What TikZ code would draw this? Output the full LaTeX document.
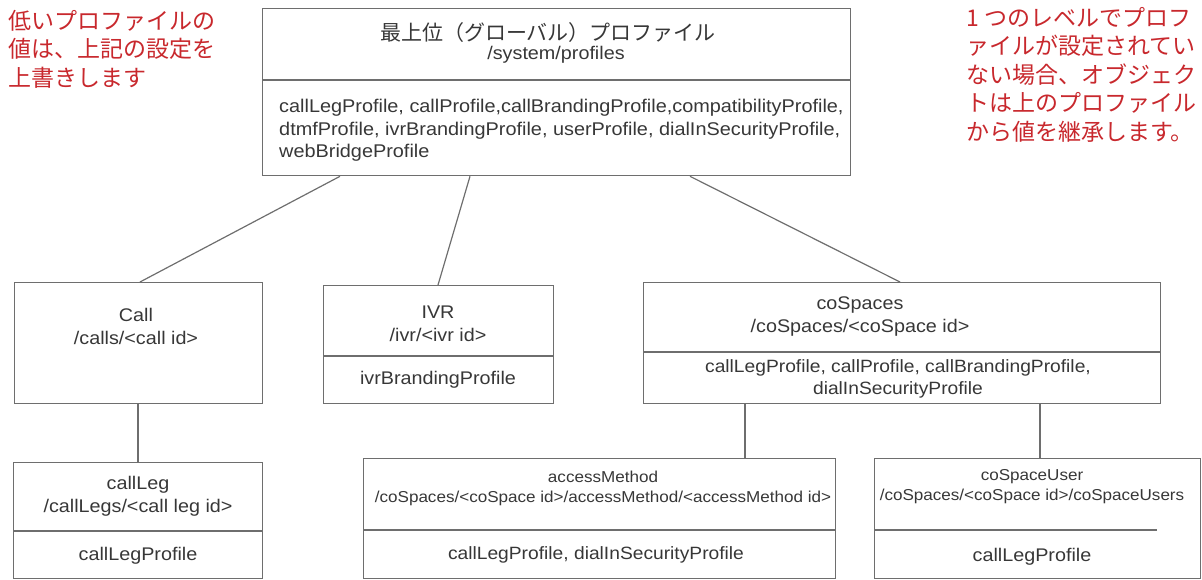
\documentclass[tikz,border=0pt]{standalone}
\usepackage{fontspec}
\setmainfont[FakeStretch=1.08]{Liberation Sans}
\newfontfamily\jp{Noto Sans CJK JP}
\usetikzlibrary{calc}
\definecolor{ln}{RGB}{110,110,110}
\definecolor{tx}{RGB}{55,55,55}
\definecolor{rd}{RGB}{200,40,45}
\tikzset{
  box/.style={draw=ln, line width=1.3pt, anchor=north west, inner sep=0pt},
  div/.style={draw=ln, line width=1.3pt},
  conn/.style={draw=ln, line width=1.2pt},
  lbl/.style={text=tx, inner sep=0pt, align=center, font=\fontsize{18.3}{23}\selectfont},
  small/.style={text=tx, inner sep=0pt, align=center, font=\fontsize{15.8}{20}\selectfont},
  body/.style={text=tx, inner sep=0pt, align=left, anchor=north west, font=\fontsize{18.4}{22.5}\selectfont},
  note/.style={text=rd, inner sep=0pt, align=left, anchor=north west, font=\jp\fontsize{23}{28.5}\selectfont},
}
\begin{document}
\begin{tikzpicture}[x=1pt,y=-1pt]
\useasboundingbox (0,0) rectangle (1202,580);
% notes
\node[note] (noteL) at (8,10) {低いプロファイルの\\値は、上記の設定を\\上書きします};
\node[note] (noteR) at (966,7) {1 つのレベルでプロフ\\ァイルが設定されてい\\ない場合、オブジェク\\トは上のプロファイル\\から値を継承します。};
% top box
\node[box, minimum width=588pt, minimum height=167pt] (top) at (262,8) {};
\draw[div] ([yshift=-72pt]top.north west) -- ([yshift=-72pt]top.north east);
\node[lbl] (toptitle) at (548,33) {\jp\fontsize{21}{23}\selectfont 最上位（グローバル）プロファイル};
\node[lbl] (toppath) at (556,55) {/system/profiles};
\node[body] (topbody) at (279,99) {callLegProfile, callProfile,callBrandingProfile,compatibilityProfile,\\dtmfProfile, ivrBrandingProfile, userProfile, dialInSecurityProfile,\\webBridgeProfile};
% call
\node[box, minimum width=248pt, minimum height=121pt] (call) at (14,282) {};
\node[lbl] (calltxt) at (136,326) {Call\\/calls/<call id>};
% ivr
\node[box, minimum width=230pt, minimum height=118pt] (ivr) at (323,285) {};
\draw[div] ([yshift=-71pt]ivr.north west) -- ([yshift=-71pt]ivr.north east);
\node[lbl] (ivrtxt) at (438,324) {IVR\\/ivr/<ivr id>};
\node[lbl] (ivrbody) at (438,380) {ivrBrandingProfile};
% coSpaces
\node[box, minimum width=517pt, minimum height=121pt] (cosp) at (643,282) {};
\draw[div] ([yshift=-70pt]cosp.north west) -- ([yshift=-70pt]cosp.north east);
\node[lbl] (cosptxt) at (860,317) {coSpaces\\/coSpaces/<coSpace id>};
\node[lbl, font=\fontsize{17.8}{22}\selectfont] (cospbody) at (898,379) {callLegProfile, callProfile, callBrandingProfile,\\dialInSecurityProfile};
% callLeg
\node[box, minimum width=249pt, minimum height=116pt] (leg) at (13,462) {};
\draw[div] ([yshift=-69pt]leg.north west) -- ([yshift=-69pt]leg.north east);
\node[lbl] (legtxt) at (138,496) {callLeg\\/callLegs/<call leg id>};
\node[lbl] (legbody) at (138,556) {callLegProfile};
% accessMethod
\node[box, minimum width=472pt, minimum height=120pt] (acc) at (363,458) {};
\draw[div] ([yshift=-72pt]acc.north west) -- ([yshift=-72pt]acc.north east);
\node[small] (acctxt) at (603,488) {accessMethod\\/coSpaces/<coSpace id>/accessMethod/<accessMethod id>};
\node[lbl, font=\fontsize{17.8}{22}\selectfont] (accbody) at (596,555) {callLegProfile, dialInSecurityProfile};
% coSpaceUser
\node[box, minimum width=326pt, minimum height=120pt] (usr) at (874,458) {};
\draw[div] ([yshift=-72pt]usr.north west) -- ([yshift=-72pt,xshift=283pt]usr.north west);
\node[small] (usrtxt) at (1032,487) {coSpaceUser\\/coSpaces/<coSpace id>/coSpaceUsers};
\node[lbl] (usrbody) at (1032,557) {callLegProfile};
% connectors
\draw[conn] ([xshift=78pt]top.south west) -- ([xshift=126pt]call.north west);
\draw[conn] ([xshift=208pt]top.south west) -- ([xshift=115pt]ivr.north west);
\draw[conn] ([xshift=428pt]top.south west) -- ([xshift=257pt]cosp.north west);
\draw[conn] ([xshift=124pt]call.south west) -- ([xshift=125pt]leg.north west);
\draw[conn] ([xshift=102pt]cosp.south west) -- ([xshift=382pt]acc.north west);
\draw[conn] ([xshift=397pt]cosp.south west) -- ([xshift=166pt]usr.north west);
\end{tikzpicture}
\end{document}
